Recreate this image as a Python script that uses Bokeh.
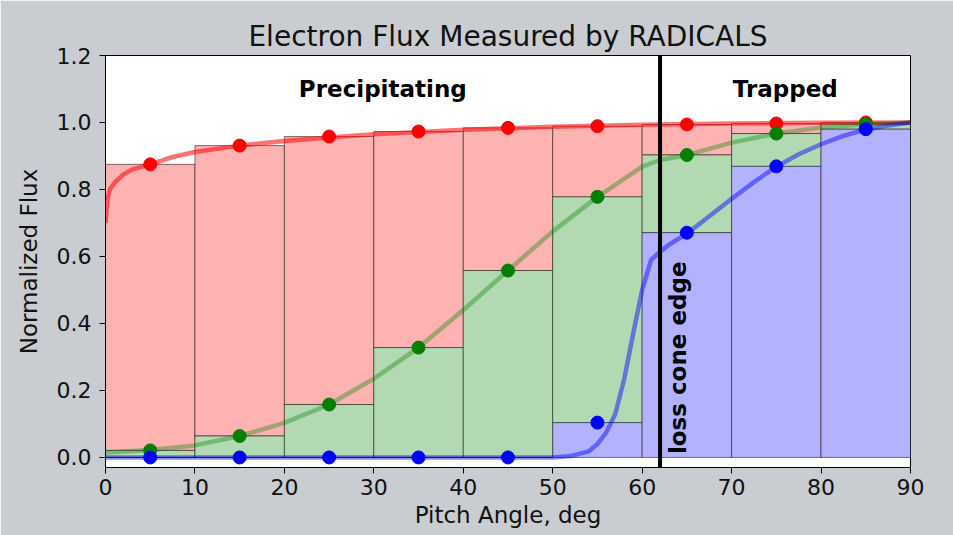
from bokeh.plotting import figure
from bokeh.models import Range1d, FixedTicker, PrintfTickFormatter, Span, ColumnDataSource
from bokeh.core.properties import value
from bokeh.embed import file_html
from bokeh.resources import INLINE

# ---- data ----
bin_left = [0, 10, 20, 30, 40, 50, 60, 70, 80]
bin_right = [10, 20, 30, 40, 50, 60, 70, 80, 90]
bin_center = [5, 15, 25, 35, 45, 55, 65, 75, 85]

red_vals = [0.875, 0.931, 0.958, 0.973, 0.984, 0.989, 0.994, 0.997, 1.0]
green_vals = [0.021, 0.064, 0.158, 0.328, 0.558, 0.778, 0.903, 0.967, 0.995]
blue_vals = [0.0, 0.0, 0.0, 0.0, 0.0, 0.104, 0.671, 0.869, 0.980]

red_curve_x = [0, 0.2, 0.5, 1, 2, 3, 5, 7.5, 10, 15, 20, 25, 30, 40, 50, 60, 70, 80, 90]
red_curve_y = [0.70, 0.77, 0.80, 0.82, 0.845, 0.86, 0.875, 0.897, 0.912, 0.931, 0.945,
               0.955, 0.965, 0.978, 0.987, 0.993, 0.997, 0.999, 1.0]

green_curve_x = [0, 5, 10, 15, 20, 25, 30, 35, 40, 45, 50, 55, 60, 62, 65, 70, 75, 80, 85, 90]
green_curve_y = [0.015, 0.022, 0.036, 0.064, 0.103, 0.158, 0.235, 0.328, 0.44, 0.558,
                 0.675, 0.778, 0.868, 0.888, 0.903, 0.94, 0.967, 0.985, 0.995, 1.0]

blue_curve_x = [0, 10, 20, 30, 40, 50, 52, 54, 55, 56, 57, 58, 59, 60, 61, 62, 63, 64, 65,
                67.5, 70, 72.5, 75, 77.5, 80, 82.5, 85, 87.5, 90]
blue_curve_y = [0, 0, 0, 0, 0, 0.0, 0.004, 0.018, 0.04, 0.075, 0.13, 0.235, 0.37, 0.50,
                0.59, 0.614, 0.635, 0.652, 0.668, 0.72, 0.772, 0.822, 0.868, 0.905,
                0.935, 0.96, 0.979, 0.991, 1.0]

loss_cone = 62
region_labels = ["Precipitating", "Trapped"]
region_x = [loss_cone / 2, (loss_cone + 90) / 2]
region_y = [1.1, 1.1]

x_ticks = [0, 10, 20, 30, 40, 50, 60, 70, 80, 90]
y_ticks = [0.0, 0.2, 0.4, 0.6, 0.8, 1.0, 1.2]

FONT = "DejaVu Sans"

p = figure(width=953, height=535, output_backend="svg", toolbar_location=None,
           x_range=Range1d(0, 90), y_range=Range1d(-0.03, 1.2),
           title="Electron Flux Measured by RADICALS",
           min_border_left=105, min_border_right=43, min_border_top=55, min_border_bottom=68)

p.border_fill_color = "#c9ccd0"
p.background_fill_color = "white"
p.outline_line_color = "black"
p.outline_line_width = 1
p.grid.visible = False

p.title.text_font = FONT
p.title.text_font_size = "28px"
p.title.text_font_style = "normal"
p.title.text_color = "#111111"
p.title.align = "center"
p.title.standoff = 5

# stacked bars
src = ColumnDataSource(dict(left=bin_left, right=bin_right, red=red_vals,
                            green=green_vals, blue=blue_vals, zero=[0] * len(bin_left)))
p.quad(left="left", right="right", bottom="green", top="red", source=src,
       fill_color="#FFB2B2", line_color="black", line_alpha=0.5, line_width=1)
p.quad(left="left", right="right", bottom="blue", top="green", source=src,
       fill_color="#B2D9B2", line_color="black", line_alpha=0.5, line_width=1)
p.quad(left="left", right="right", bottom="zero", top="blue", source=src,
       fill_color="#B2B2FF", line_color="black", line_alpha=0.5, line_width=1)

# smooth curves
p.line(red_curve_x, red_curve_y, line_color="red", line_alpha=0.55, line_width=4.5)
p.line(green_curve_x, green_curve_y, line_color="green", line_alpha=0.36, line_width=4.5)
p.line(blue_curve_x, blue_curve_y, line_color="blue", line_alpha=0.45, line_width=4.5)

# loss cone edge
p.add_layout(Span(location=loss_cone, dimension="height", line_color="black", line_width=4))

# points
p.scatter(bin_center, red_vals, size=13, color="red")
p.scatter(bin_center, green_vals, size=13, color="green")
p.scatter(bin_center, blue_vals, size=13, color="blue")

# labels
p.text(x=region_x, y=region_y, text=region_labels, text_font=value(FONT),
       text_font_size="23px", text_font_style="bold", text_align="center",
       text_baseline="middle", text_color="black")
p.text(x=[loss_cone + 0.5], y=[0.01], text=["loss cone edge"], angle=1.5707963,
       text_font=value(FONT), text_font_size="23px", text_font_style="bold",
       text_align="left", text_baseline="top", text_color="black")

# axes
for ax in (p.xaxis[0], p.yaxis[0]):
    ax.axis_line_color = "black"
    ax.major_tick_line_color = "black"
    ax.major_tick_out = 6
    ax.major_tick_in = 0
    ax.minor_tick_line_color = None
    ax.major_label_text_font = FONT
    ax.major_label_text_font_size = "22px"
    ax.major_label_text_color = "#111111"
    ax.axis_label_text_font = FONT
    ax.axis_label_text_font_size = "23px"
    ax.axis_label_text_font_style = "normal"
    ax.axis_label_text_color = "#111111"

p.xaxis.ticker = FixedTicker(ticks=x_ticks)
p.yaxis.ticker = FixedTicker(ticks=y_ticks)
p.yaxis.formatter = PrintfTickFormatter(format="%.1f")
p.xaxis.axis_label = "Pitch Angle, deg"
p.yaxis.axis_label = "Normalized Flux"
p.xaxis.major_label_standoff = 5
p.xaxis.axis_label_standoff = 4
p.yaxis.major_label_standoff = 8
p.yaxis.axis_label_standoff = 12

open("out.html", "w").write(file_html(p, INLINE))
